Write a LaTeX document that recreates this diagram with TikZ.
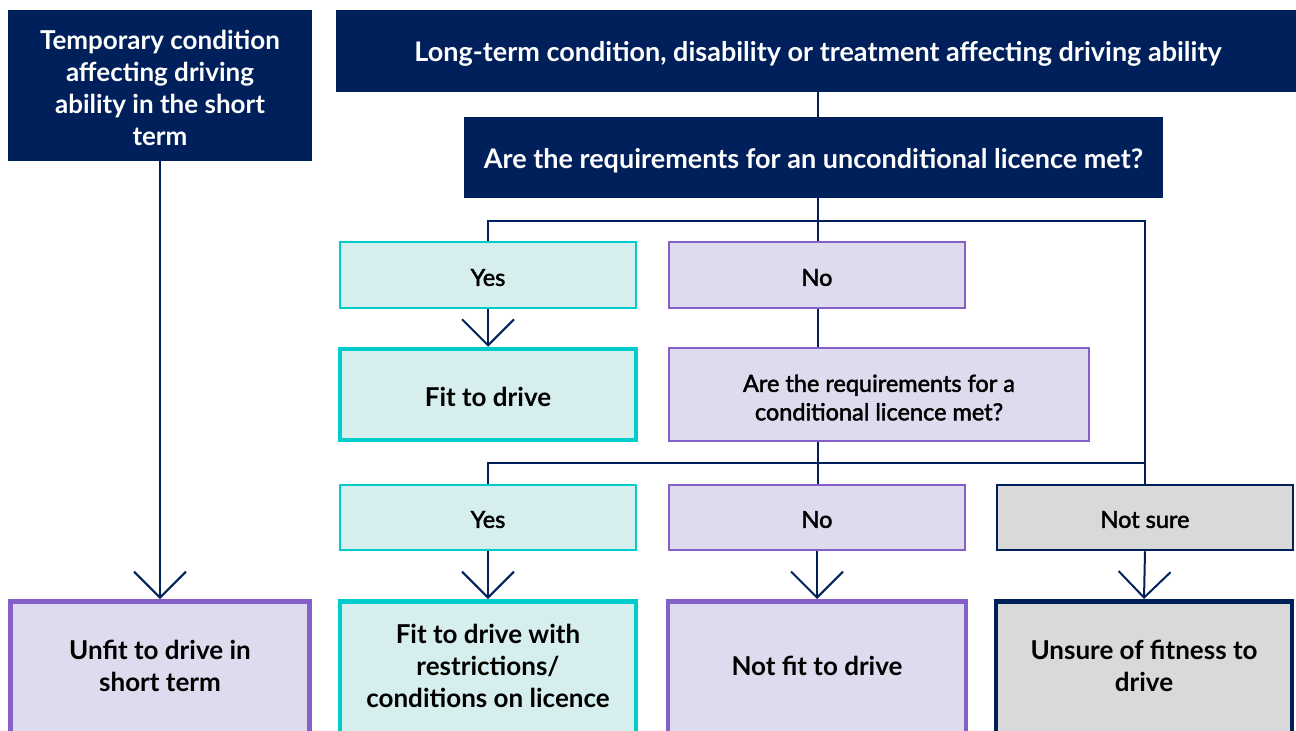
\documentclass[tikz,border=0pt]{standalone}
\usepackage{fontspec}
\setmainfont{Lato}
\newfontfamily\medfont[FakeBold=2]{Lato}
\usetikzlibrary{arrows.meta}
\definecolor{navy}{RGB}{0,32,91}
\definecolor{tealb}{RGB}{0,204,204}
\definecolor{tealf}{RGB}{214,239,238}
\definecolor{purpb}{RGB}{133,96,200}
\definecolor{lavf}{RGB}{223,219,239}
\definecolor{grayf}{RGB}{217,217,217}
\tikzset{
  base/.style={rectangle, inner sep=0pt, align=center, text=black},
  title/.style={base, fill=navy, text=white},
  medtxt/.style={font=\medfont\fontsize{23.5}{28.5}\selectfont},
  bigtxt/.style={font=\bfseries\fontsize{26}{32}\selectfont},
  headtxt/.style={font=\bfseries\fontsize{27}{32}\selectfont},
  tealthin/.style={base, medtxt, fill=tealf, draw=tealb, line width=2.5pt},
  lavthin/.style={base, medtxt, fill=lavf, draw=purpb, line width=2.5pt},
  graythin/.style={base, medtxt, fill=grayf, draw=navy, line width=2.5pt},
  tealthick/.style={base, bigtxt, fill=tealf, draw=tealb, line width=4.5pt},
  lavthick/.style={base, bigtxt, fill=lavf, draw=purpb, line width=4.5pt},
  graythick/.style={base, bigtxt, fill=grayf, draw=navy, line width=4.5pt},
  conn/.style={draw=navy, line width=2pt},
  arr/.style={conn, -{Straight Barb[length=26pt, width=52pt, line width=2pt]}},
}
\begin{document}
\begin{tikzpicture}[x=1pt,y=-1pt]
\useasboundingbox[fill=white] (0,0) rectangle (1296,731);
% top row
\node[title, minimum width=304pt, minimum height=151pt] (temp) at (160,85.5) {};
\node[base, text=white, bigtxt] (tempt) at (160,87.5) {Temporary condition\\affecting driving\\ability in the short\\term};
\node[title, minimum width=970pt, minimum height=82pt, anchor=north west] (lt) at (336,10) {};
\node[base, text=white, headtxt] (ltt) at (818,54) {Long-term condition, disability or treatment affecting driving ability};
\node[title, minimum width=699pt, minimum height=81pt] (q1) at (813.5,157.5) {};
\node[base, text=white, headtxt] (q1t) at (813.5,161) {Are the requirements for an unconditional licence met?};
% first answers
\node[tealthin, minimum width=296pt, minimum height=66pt] (yes1) at (488,275) {};
\node[base, medtxt] at (488,277.5) {Yes};
\node[lavthin, minimum width=296pt, minimum height=66pt] (no1) at (817,275) {};
\node[base, medtxt] at (817,277.5) {No};
\node[tealthick, minimum width=296pt, minimum height=91pt] (fit) at (488,394.5) {};
\node[base, bigtxt] at (488,397) {Fit to drive};
\node[lavthin, minimum width=420pt, minimum height=93pt] (q2) at (879,394.5) {};
\node[base, medtxt] at (879,397.5) {Are the requirements for a\\conditional licence met?};
% second answers
\node[tealthin, minimum width=296pt, minimum height=65pt] (yes2) at (488,517.5) {};
\node[base, medtxt] at (488,519.5) {Yes};
\node[lavthin, minimum width=296pt, minimum height=65pt] (no2) at (817,517.5) {};
\node[base, medtxt] at (817,519.5) {No};
\node[graythin, minimum width=296pt, minimum height=65pt] (ns) at (1145,517.5) {};
\node[base, medtxt] at (1145,519.5) {Not sure};
% finals
\node[lavthick, minimum width=299pt, minimum height=140pt, anchor=north] (unfit) at (160,599) {};
\node[base, bigtxt] at (160,666) {Unfit to drive in\\short term};
\node[tealthick, minimum width=296pt, minimum height=140pt, anchor=north] (fitr) at (488,599) {};
\node[base, bigtxt] at (488,666) {Fit to drive with\\restrictions/\\conditions on licence};
\node[lavthick, minimum width=298pt, minimum height=140pt, anchor=north] (nfit) at (817,599) {};
\node[base, bigtxt] at (817,666) {Not fit to drive};
\node[graythick, minimum width=296pt, minimum height=140pt, anchor=north] (uns) at (1144,599) {};
\node[base, bigtxt] at (1144,666) {Unsure of fitness to\\drive};
% connectors
\coordinate (b1) at (818,221);
\coordinate (b2) at (818,463);
\coordinate (b2r) at (1145,463);
\draw[conn] (lt.south -| b1) -- (q1.north -| b1);
\draw[conn] (q1.south -| b1) -- (b1);
\draw[conn] (yes1.north) |- (b1) -| (ns.north);
\draw[conn] (b1) -- (no1.north -| b1);
\draw[conn] (no1.south -| b1) -- (q2.north -| b1);
\draw[conn] (q2.south -| b2) -- (b2);
\draw[conn] (yes2.north) |- (b2) -- (b2r);
\draw[conn] (b2) -- (no2.north -| b2);
\draw[arr] (temp.south) -- (unfit.north);
\draw[arr] (yes1.south) -- (fit.north);
\draw[arr] (yes2.south) -- (fitr.north);
\draw[arr] (no2.south) -- (nfit.north);
\draw[arr] (ns.south) -- (uns.north);
\end{tikzpicture}
\end{document}
